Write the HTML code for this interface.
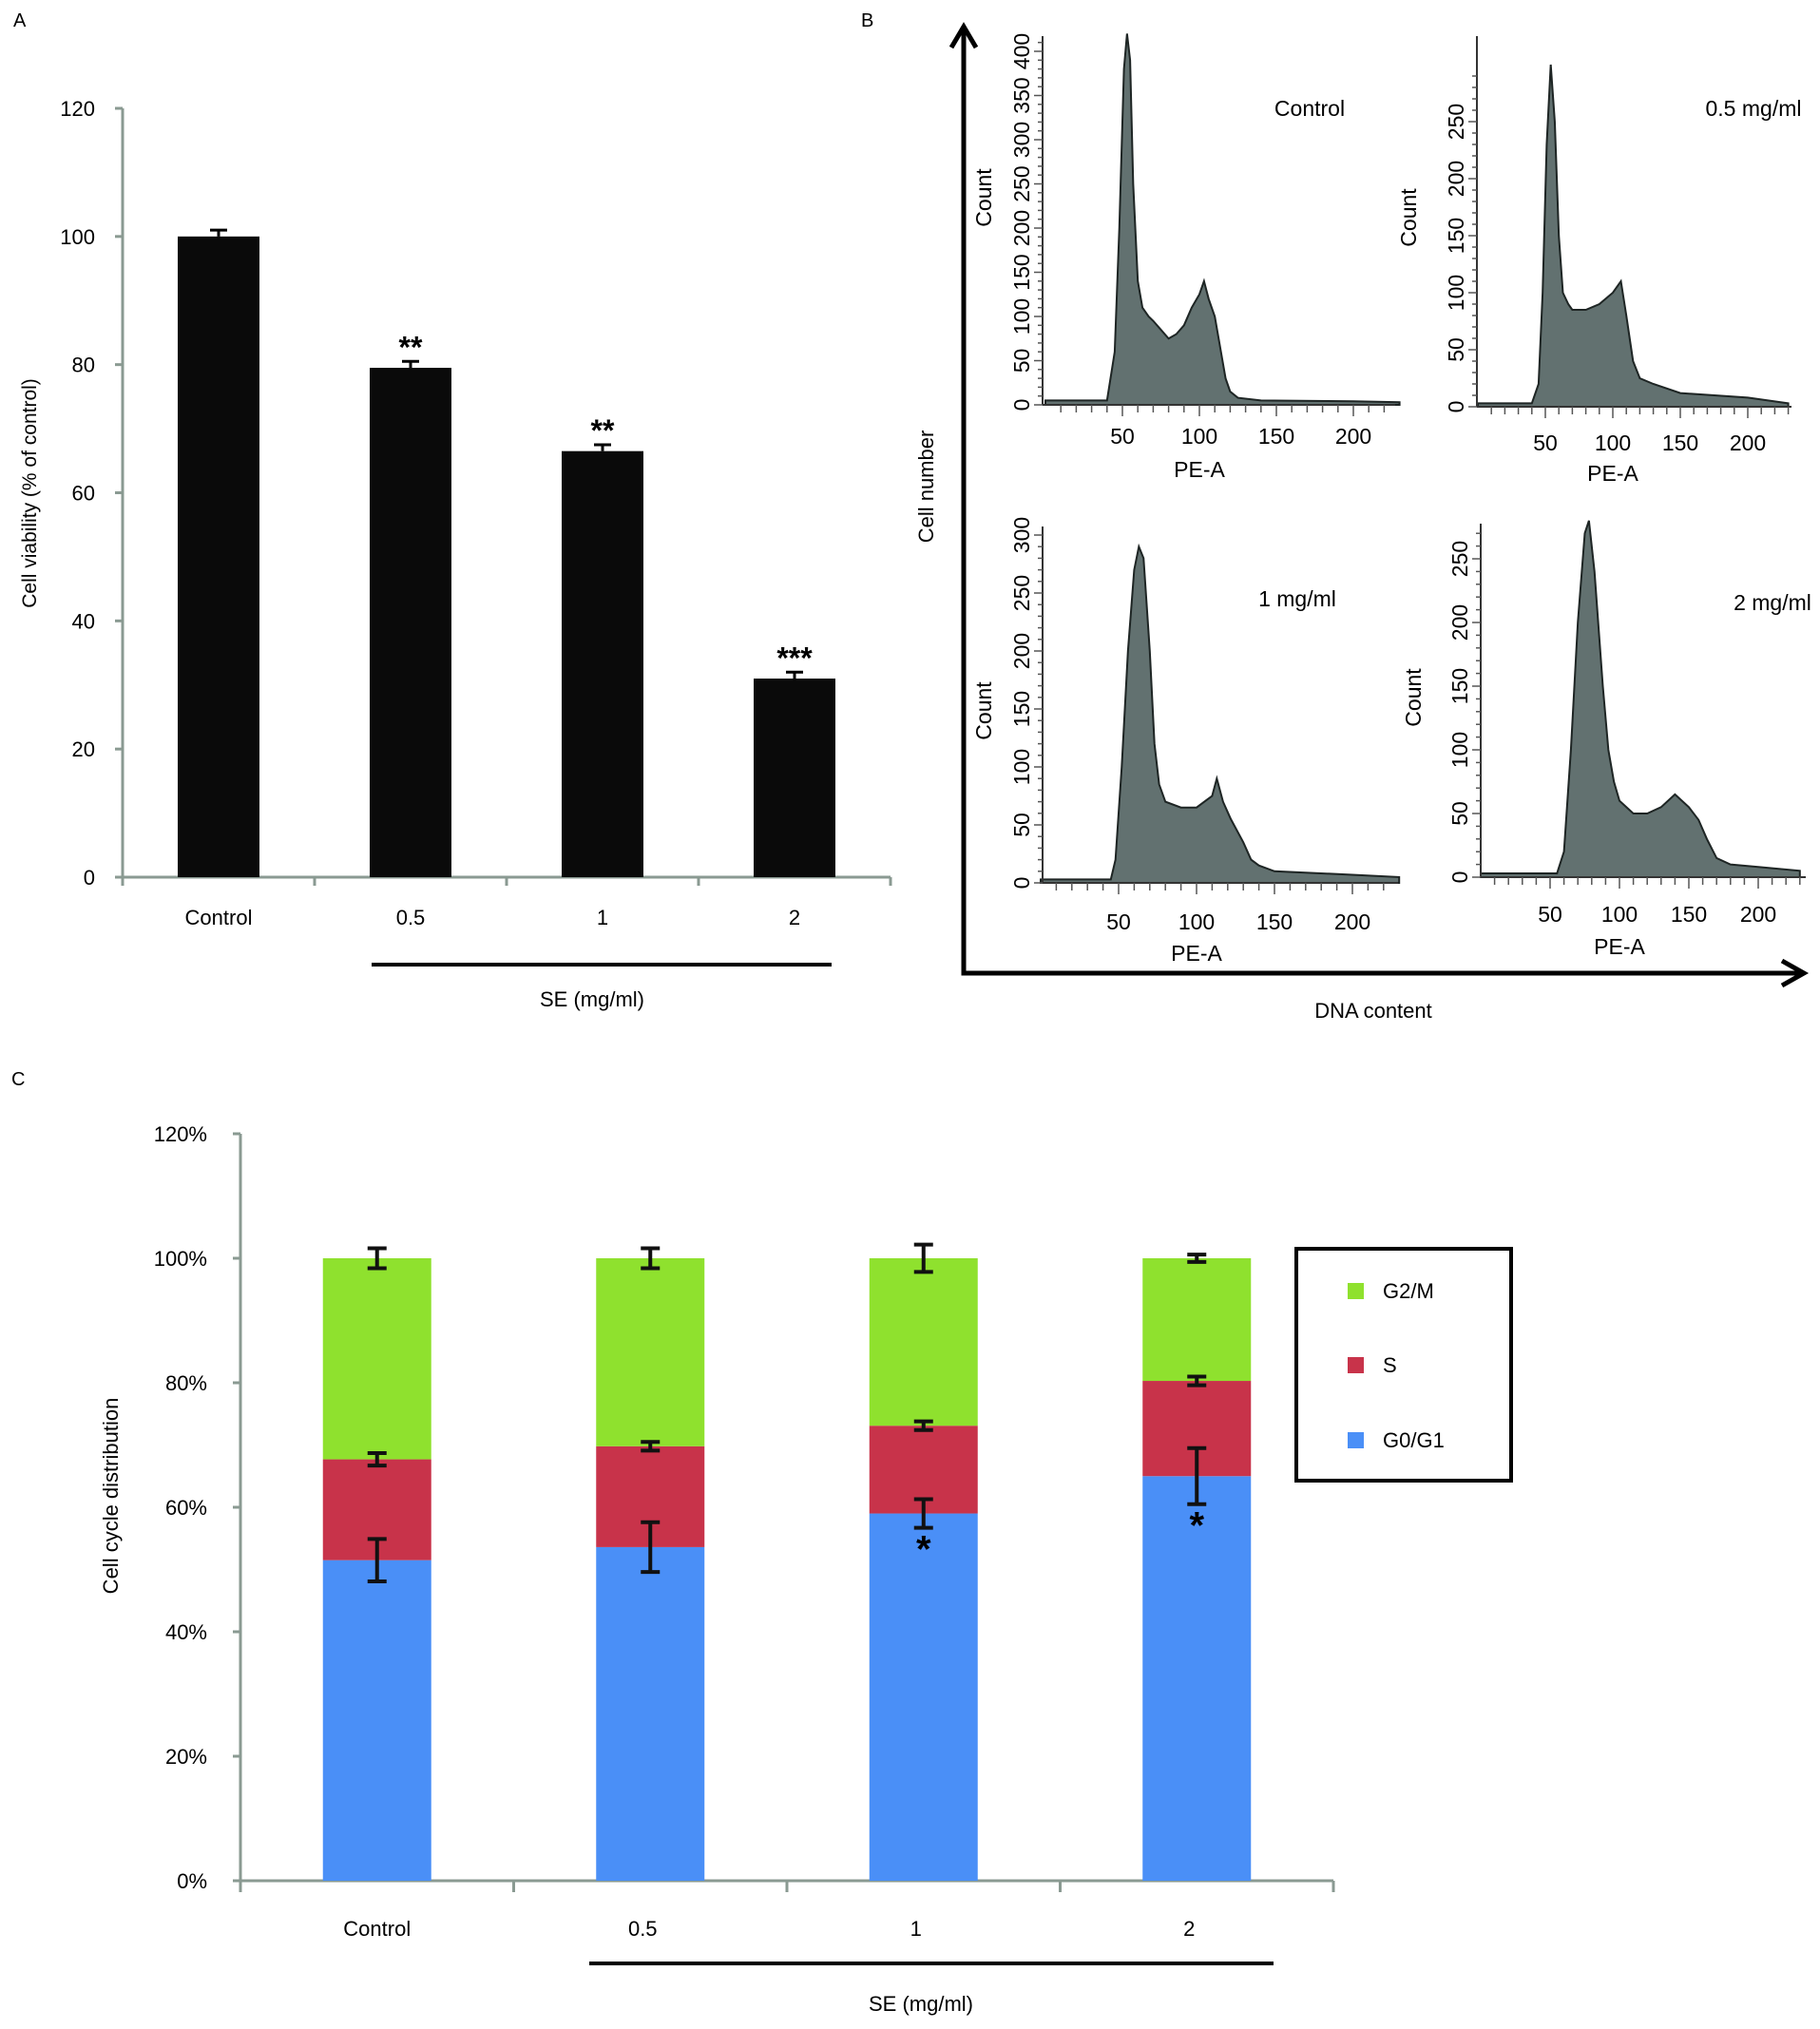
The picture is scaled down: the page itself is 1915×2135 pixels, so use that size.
<!DOCTYPE html>
<html><head><meta charset="utf-8"><style>
body{margin:0;background:#fff;overflow:hidden}
svg{display:block;font-family:"Liberation Sans",Arial,sans-serif}
</style></head><body>
<svg id="fig" width="1915" height="2135" viewBox="0 0 1915 2135" xmlns="http://www.w3.org/2000/svg">
<g id="pa"></g>
<g id="pb"></g>
<g id="pc"></g>
</svg>
<script>
// ---------- Panel A data ----------
const aCategories = ["Control","0.5","1","2"];
const aValues = [100, 79.5, 66.5, 31];
const aErrors = [1, 1, 1, 1];
const aStars = ["", "**", "**", "***"];
const aTicks = [0,20,40,60,80,100,120];

// ---------- Panel B data ----------
const bTitles = ["Control","0.5 mg/ml","1 mg/ml","2 mg/ml"];
const bCtrlX = [0,40,45,48,51,53,55,57,60,63,67,70,75,80,85,90,95,100,103,106,110,113,117,120,125,140,200,230];
const bCtrlY = [5,5,60,200,380,420,390,250,140,110,100,95,85,75,80,90,110,125,140,120,100,70,30,15,8,5,4,3];
const bHalfX = [0,40,45,48,51,54,57,60,63,67,70,80,90,100,106,110,115,120,130,150,200,230];
const bHalfY = [3,3,20,100,230,300,250,150,100,90,85,85,90,100,110,80,40,25,20,12,8,3];
const bOneX = [0,45,48,52,56,60,63,66,70,73,76,80,90,100,110,113,117,122,130,135,140,150,200,230];
const bOneY = [3,3,20,100,200,270,290,280,200,120,85,70,65,65,75,90,70,55,35,20,15,10,7,5];
const bTwoX = [0,55,60,65,70,75,78,82,88,92,96,100,110,120,130,140,150,157,163,170,180,200,230];
const bTwoY = [3,3,20,100,200,270,280,240,150,100,75,60,50,50,55,65,55,45,30,15,10,8,5];
const bYTicks0 = [0,50,100,150,200,250,300,350,400];
const bYTicks1 = [0,50,100,150,200,250];
const bYTicks2 = [0,50,100,150,200,250,300];
const bXTicks = [50,100,150,200];

// ---------- Panel C data ----------
const cCategories = ["Control","0.5","1","2"];
const cG1 = [51.5, 53.6, 59, 65];
const cG1Err = [3.4, 4, 2.3, 4.5];
const cSTop = [67.7, 69.8, 73.1, 80.3];
const cSErr = [1, 0.7, 0.7, 0.7];
const cTotal = [100, 100, 100, 100];
const cTotErr = [1.6, 1.6, 2.2, 0.6];
const cStars = ["", "", "*", "*"];
const cTicks = [0,20,40,60,80,100,120];

const NS="http://www.w3.org/2000/svg";
function el(parent,tag,attrs,text){const e=document.createElementNS(NS,tag);for(const k in attrs)e.setAttribute(k,attrs[k]);if(text!==undefined)e.textContent=text;parent.appendChild(e);return e;}

// ===== Panel A =====
(function(){
const g=document.getElementById('pa');
const x0=129,x1=937,yB=923,yT=114;
const ys=v=>yB-(v/120)*(yB-yT);
const cw=(x1-x0)/4;
const xc=i=>x0+cw*(i+0.5);
let t=el(g,'text',{x:14,y:28,'font-size':20},'A');


let ax=el(g,'path',{d:`M${x0} ${yT} L${x0} ${yB} L${x1} ${yB}`,stroke:'#8a9a92','stroke-width':3,fill:'none'});


aTicks.forEach(v=>{
 el(g,'line',{x1:x0-8,x2:x0,y1:ys(v),y2:ys(v),stroke:'#8a9a92','stroke-width':3});
 let l=el(g,'text',{x:100,y:ys(v)+8,'text-anchor':'end','font-size':22},v);
 
 
});
for(let i=0;i<=4;i++)el(g,'line',{x1:x0+cw*i,x2:x0+cw*i,y1:yB,y2:yB+9,stroke:'#8a9a92','stroke-width':3});
aCategories.forEach((c,i)=>{
 const bw=86;
 let r=el(g,'rect',{x:xc(i)-bw/2,y:ys(aValues[i]),width:bw,height:yB-ys(aValues[i]),fill:'#0a0a0a'});
 
 
 const ye=ys(aValues[i]+aErrors[i]);
 el(g,'path',{d:`M${xc(i)} ${ys(aValues[i])} L${xc(i)} ${ye} M${xc(i)-9} ${ye} L${xc(i)+9} ${ye}`,stroke:'#000','stroke-width':3});
 if(aStars[i]){let s=el(g,'text',{x:xc(i),y:ye-4,'text-anchor':'middle','font-size':32,'font-weight':'bold'},aStars[i]);
 
 }
 let l=el(g,'text',{x:xc(i),y:973,'text-anchor':'middle','font-size':22},c);
 
 
});
el(g,'line',{x1:391,x2:875,y1:1015,y2:1015,stroke:'#000','stroke-width':4});
let se=el(g,'text',{x:623,y:1059,'text-anchor':'middle','font-size':22},'SE (mg/ml)');


let yl=el(g,'text',{x:0,y:0,transform:'translate(38,519) rotate(-90)','text-anchor':'middle','font-size':21},'Cell viability (% of control)');


})();

// ===== Panel B =====
(function(){
const g=document.getElementById('pb');
let t=el(g,'text',{x:906,y:28,'font-size':20},'B');


el(g,'path',{d:'M1014 32 L1014 1024 L1895 1024',stroke:'#000','stroke-width':5,fill:'none'});
el(g,'path',{d:'M1001 50 L1014 28 L1027 50',stroke:'#000','stroke-width':5,fill:'none'});
el(g,'path',{d:'M1875 1011 L1898 1024 L1875 1037',stroke:'#000','stroke-width':5,fill:'none'});
let cl=el(g,'text',{x:0,y:0,transform:'translate(982,512) rotate(-90)','text-anchor':'middle','font-size':22},'Cell number');


let dl=el(g,'text',{x:1445,y:1071,'text-anchor':'middle','font-size':22},'DNA content');



const panels=[
 {xs:bCtrlX,ys:bCtrlY,ax:1097,x0:1100,xpu:81/50,base:426,top:38,ypu:0.93,xe:1468,yt:bYTicks0,title:[1378,122],cnt:[1043,208],tl:467,pe:502},
 {xs:bHalfX,ys:bHalfY,ax:1554,x0:1555,xpu:71/50,base:428,top:38,ypu:1.2,xe:1885,yt:bYTicks1,title:[1845,122],cnt:[1490,229],tl:474,pe:506},
 {xs:bOneX,ys:bOneY,ax:1097,x0:1095,xpu:82/50,base:929,top:554,ypu:1.22,xe:1471,yt:bYTicks2,title:[1365,638],cnt:[1043,748],tl:978,pe:1011},
 {xs:bTwoX,ys:bTwoY,ax:1558,x0:1558,xpu:73/50,base:923,top:551,ypu:1.34,xe:1900,yt:bYTicks1,title:[1865,642],cnt:[1495,734],tl:970,pe:1004}
];
panels.forEach((p,k)=>{
 const gg=el(g,'g',{});
 
 
 const X=v=>p.x0+v*p.xpu, Y=v=>p.base-v*p.ypu;
 let d=`M${X(p.xs[0])} ${p.base}`;
 p.xs.forEach((v,i)=>{d+=` L${X(v)} ${Y(p.ys[i])}`;});
 d+=` L${X(p.xs[p.xs.length-1])} ${p.base} Z`;
 let h=el(gg,'path',{d:d,fill:'#627170',stroke:'#1e2524','stroke-width':2});
 
 
 el(gg,'line',{x1:p.ax,x2:p.ax,y1:p.top,y2:p.base,stroke:'#333','stroke-width':2});
 el(gg,'line',{x1:p.ax,x2:p.xe,y1:p.base,y2:p.base,stroke:'#333','stroke-width':2});
 for(let v=0;v<=p.yt[p.yt.length-1]+40;v+=10){const yy=Y(v);if(yy<p.top)break;el(gg,'line',{x1:p.ax-(v%50?5:9),x2:p.ax,y1:yy,y2:yy,stroke:'#555','stroke-width':1.5});}
 p.yt.forEach(v=>{let l=el(gg,'text',{x:0,y:0,transform:`translate(${p.ax-14},${Y(v)}) rotate(-90)`,'text-anchor':'middle','font-size':23},v);
  
  });
 for(let v=10;X(v)<p.xe;v+=10){el(gg,'line',{x1:X(v),x2:X(v),y1:p.base,y2:p.base+(v%50?8:12),stroke:'#555','stroke-width':1.5});}
 bXTicks.forEach(v=>{let l=el(gg,'text',{x:X(v),y:p.tl,'text-anchor':'middle','font-size':23},v);
  
  });
 let pe=el(gg,'text',{x:X(100),y:p.pe,'text-anchor':'middle','font-size':23},'PE-A');
 
 
 let ct=el(gg,'text',{x:0,y:0,transform:`translate(${p.cnt[0]},${p.cnt[1]}) rotate(-90)`,'text-anchor':'middle','font-size':23},'Count');
 
 
 let ti=el(gg,'text',{x:p.title[0],y:p.title[1],'text-anchor':'middle','font-size':23},bTitles[k]);
 
 
});
})();

// ===== Panel C =====
(function(){
const g=document.getElementById('pc');
const x0=253,x1=1403,yB=1979,yT=1193;
const ys=v=>yB-(v/120)*(yB-yT);
const cw=(x1-x0)/4, xc=i=>x0+cw*(i+0.5);
let t=el(g,'text',{x:12,y:1142,'font-size':20},'C');


el(g,'path',{d:`M${x0} ${yT} L${x0} ${yB} L${x1} ${yB}`,stroke:'#8a9a92','stroke-width':3,fill:'none'});
cTicks.forEach(v=>{el(g,'line',{x1:x0-8,x2:x0,y1:ys(v),y2:ys(v),stroke:'#8a9a92','stroke-width':3});
 let l=el(g,'text',{x:218,y:ys(v)+8,'text-anchor':'end','font-size':22},v+'%');
 
 });
for(let i=0;i<=4;i++)el(g,'line',{x1:x0+cw*i,x2:x0+cw*i,y1:yB,y2:yB+12,stroke:'#8a9a92','stroke-width':3});
const bw=114;
function eb(x,v,e){const a=ys(v+e),b=ys(v-e);el(g,'path',{d:`M${x} ${a} L${x} ${b} M${x-10} ${a} L${x+10} ${a} M${x-10} ${b} L${x+10} ${b}`,stroke:'#111','stroke-width':4,fill:'none'});}
cCategories.forEach((c,i)=>{
 const x=xc(i);
 let r1=el(g,'rect',{x:x-bw/2,y:ys(cG1[i]),width:bw,height:yB-ys(cG1[i]),fill:'#4a8ff7'});
 
 
 let r2=el(g,'rect',{x:x-bw/2,y:ys(cSTop[i]),width:bw,height:ys(cG1[i])-ys(cSTop[i]),fill:'#c8334a'});
 
 
 let r3=el(g,'rect',{x:x-bw/2,y:ys(cTotal[i]),width:bw,height:ys(cSTop[i])-ys(cTotal[i]),fill:'#8fe12e'});
 
 
 eb(x,cG1[i],cG1Err[i]);eb(x,cSTop[i],cSErr[i]);eb(x,cTotal[i],cTotErr[i]);
 if(cStars[i]){let s=el(g,'text',{x:x,y:ys(cG1[i]-cG1Err[i])+36,'text-anchor':'middle','font-size':40,'font-weight':'bold'},cStars[i]);
  
  }
 let l=el(g,'text',{x:x-(i==0?0:8),y:2037,'text-anchor':'middle','font-size':22},c);
 
 
});
el(g,'line',{x1:620,x2:1340,y1:2066,y2:2066,stroke:'#000','stroke-width':4});
let se=el(g,'text',{x:969,y:2116,'text-anchor':'middle','font-size':22},'SE (mg/ml)');


let yl=el(g,'text',{x:0,y:0,transform:'translate(124,1574) rotate(-90)','text-anchor':'middle','font-size':22},'Cell cycle distribution');


const lg=el(g,'g',{});


el(lg,'rect',{x:1364,y:1314,width:226,height:244,fill:'#fff',stroke:'#000','stroke-width':4});
[["G2/M","#8fe12e",1358],["S","#c8334a",1436],["G0/G1","#4a8ff7",1515]].forEach(e=>{
 el(lg,'rect',{x:1418,y:e[2]-8,width:17,height:17,fill:e[1]});
 let l=el(lg,'text',{x:1455,y:e[2]+8,'font-size':22},e[0]);
 
 
});
})();
</script>
</body></html>
